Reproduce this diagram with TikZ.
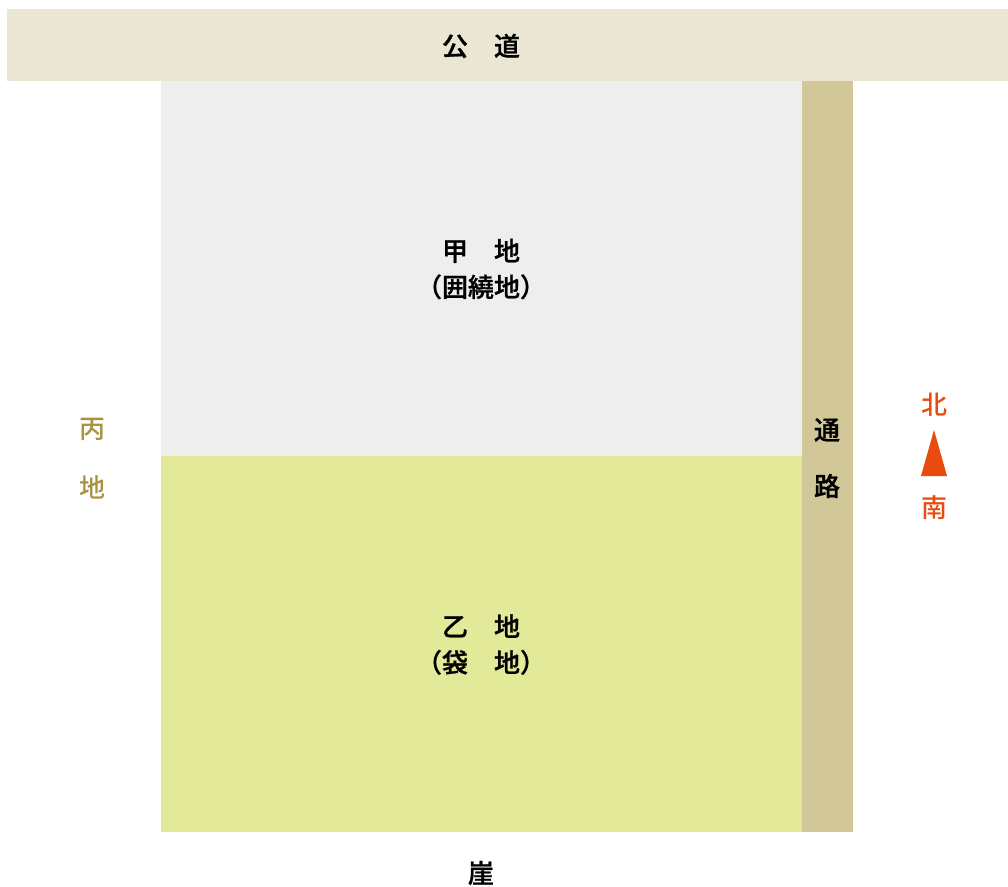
\documentclass[tikz,border=0pt]{standalone}
\usepackage{fontspec}
\setmainfont{Noto Sans CJK JP}
\newfontfamily\cjkmed{Noto Sans CJK JP Medium}
\newfontfamily\cjkheavy{Noto Sans CJK JP Medium}[FakeBold=1]
\definecolor{roadc}{HTML}{EAE6D3}
\definecolor{pathc}{HTML}{D2C799}
\definecolor{lotA}{HTML}{EEEEEE}
\definecolor{lotB}{HTML}{E2E998}
\definecolor{orangec}{HTML}{E94B0F}
\definecolor{olivec}{HTML}{A8923F}
\tikzset{
  lbl/.style={font=\fontsize{26}{36}\selectfont\cjkheavy, text=black, inner sep=0pt, align=center},
  sidelbl/.style={font=\fontsize{26}{36}\selectfont\cjkmed, inner sep=0pt},
  area/.style={draw=none},
}
\begin{document}
\begin{tikzpicture}[x=1pt,y=-1pt]
\useasboundingbox (0,0) rectangle (1008,886);
% areas
\fill[roadc] (7,9) rectangle (1008,81);
\fill[lotA] (161,81) rectangle (802,456);
\fill[lotB] (161,456) rectangle (802,832);
\fill[pathc] (802,81) rectangle (853,832);
% labels
\node[lbl] (road) at (481,46) {公　道};
\node[lbl] (ko) at (481,269) {甲　地\\（囲繞地）};
\node[lbl] (otsu) at (481,644.5) {乙　地\\（袋　地）};
\node[lbl] (gake) at (481,873) {崖};
\node[lbl] (tsu) at (827,430) {通};
\node[lbl] (ro) at (827,486) {路};
\node[sidelbl, text=olivec] (hei) at (92,429) {丙};
\node[sidelbl, text=olivec] (heichi) at (92,487) {地};
\node[sidelbl, text=orangec] (north) at (934,405) {北};
\node[sidelbl, text=orangec] (south) at (934,508) {南};
\fill[orangec] (934,430) -- (947,476) -- (921,476) -- cycle;
\end{tikzpicture}
\end{document}
